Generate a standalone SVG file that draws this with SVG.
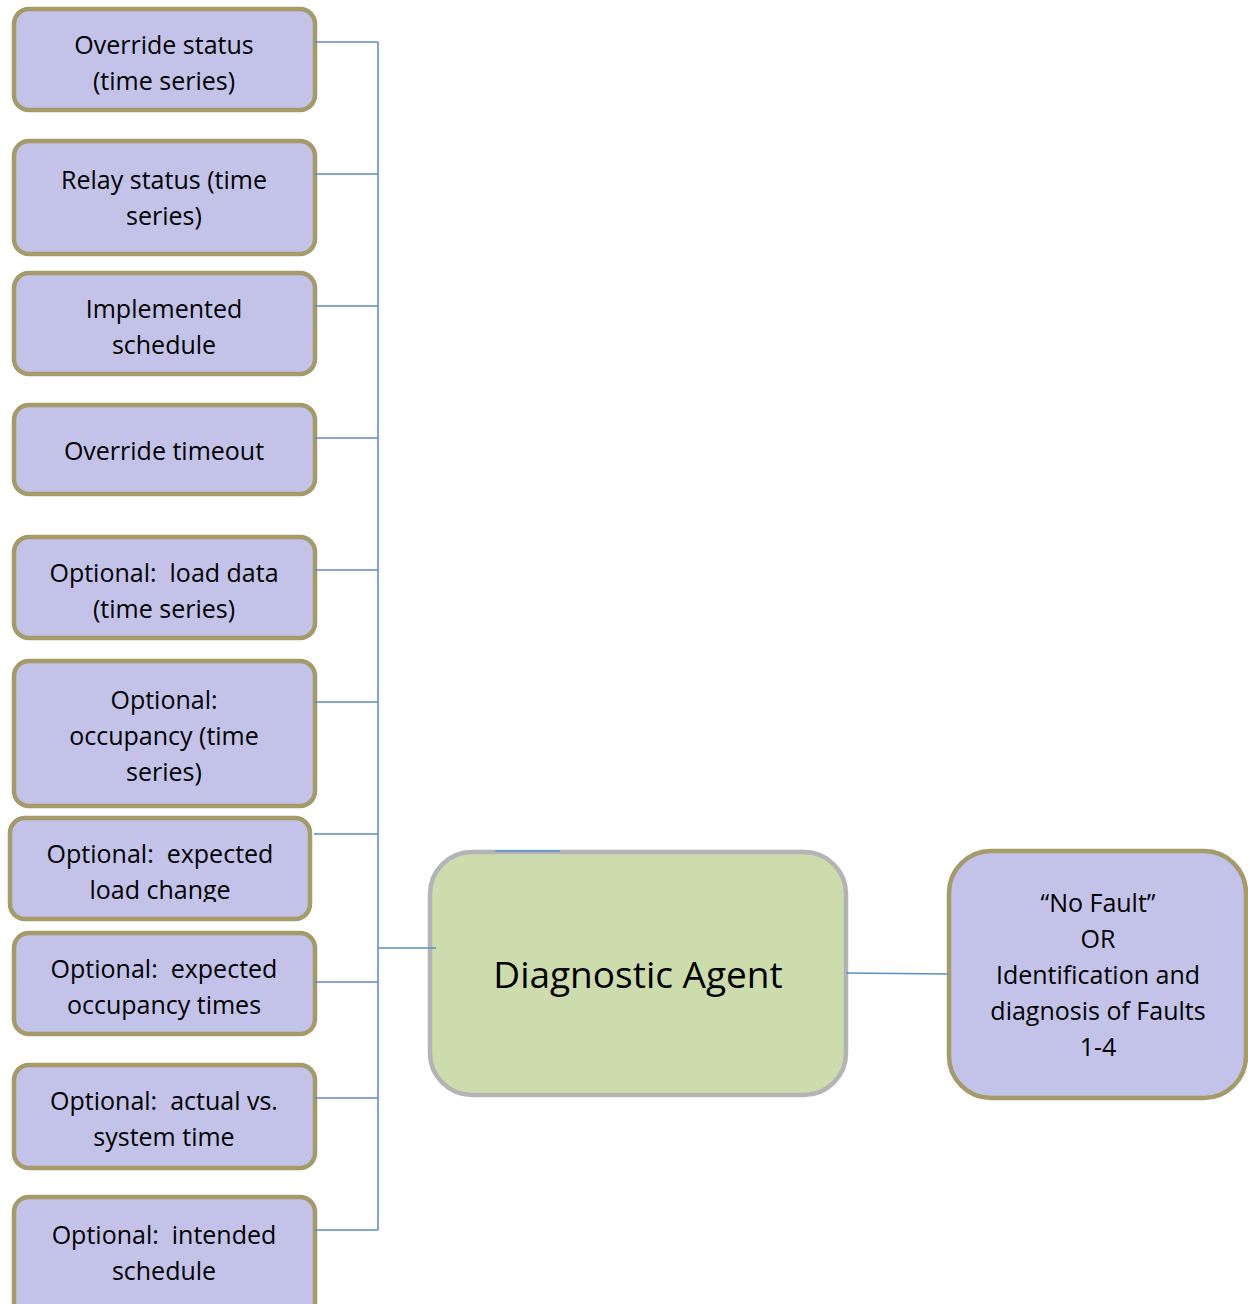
<svg xmlns="http://www.w3.org/2000/svg" width="1248" height="1304" viewBox="0 0 1248 1304">
<style>
.in{fill:#C3C3E9;stroke:#A59A6A;stroke-width:4.5}
.ag{fill:#CDDCAC;stroke:#B4B4B4;stroke-width:4.5}
.t{font-family:"Open Sans","Noto Sans",sans-serif;font-size:25px;fill:#000;text-anchor:middle;white-space:pre}
.big{font-size:37px}
.c{stroke:#5B8FD0;stroke-width:1.6;fill:none}
</style>
<defs>
<clipPath id="clip7"><rect x="10" y="818" width="300" height="84"/></clipPath>
</defs>
<rect width="1248" height="1304" fill="#fff"/>
<g id="n1"><rect class="in" x="14" y="9" width="301" height="101" rx="15"/>
<text class="t" x="164" y="54">Override status</text><text class="t" x="164" y="90">(time series)</text></g>
<g id="n2"><rect class="in" x="14" y="141" width="301" height="113" rx="15"/>
<text class="t" x="164" y="189">Relay status (time</text><text class="t" x="164" y="225">series)</text></g>
<g id="n3"><rect class="in" x="14" y="273" width="301" height="101" rx="15"/>
<text class="t" x="164" y="318">Implemented</text><text class="t" x="164" y="354">schedule</text></g>
<g id="n4"><rect class="in" x="14" y="405" width="301" height="89" rx="15"/>
<text class="t" x="164" y="460">Override timeout</text></g>
<g id="n5"><rect class="in" x="14" y="537" width="301" height="101" rx="15"/>
<text class="t" x="164" y="582" xml:space="preserve">Optional:  load data</text><text class="t" x="164" y="618">(time series)</text></g>
<g id="n6"><rect class="in" x="14" y="661" width="301" height="145" rx="15"/>
<text class="t" x="164" y="709">Optional:</text><text class="t" x="164" y="745">occupancy (time</text><text class="t" x="164" y="781">series)</text></g>
<g id="n7"><rect class="in" x="10" y="818" width="300" height="101" rx="15"/>
<g clip-path="url(#clip7)"><text class="t" x="160" y="863" xml:space="preserve">Optional:  expected</text><text class="t" x="160" y="899">load change</text></g></g>
<g id="n8"><rect class="in" x="14" y="933" width="301" height="101" rx="15"/>
<text class="t" x="164" y="978" xml:space="preserve">Optional:  expected</text><text class="t" x="164" y="1014">occupancy times</text></g>
<g id="n9"><rect class="in" x="14" y="1065" width="301" height="103" rx="15"/>
<text class="t" x="164" y="1110" xml:space="preserve">Optional:  actual vs.</text><text class="t" x="164" y="1146">system time</text></g>
<g id="n10"><rect class="in" x="14" y="1197" width="301" height="130" rx="15"/>
<text class="t" x="164" y="1244" xml:space="preserve">Optional:  intended</text><text class="t" x="164" y="1280">schedule</text></g>
<g id="agent"><rect class="ag" x="430" y="852" width="416" height="243" rx="42"/>
<text class="t big" x="638" y="988">Diagnostic Agent</text></g>
<g id="output"><rect class="in" x="949" y="851" width="297" height="247" rx="42"/>
<text class="t" x="1098" y="912">“No Fault”</text><text class="t" x="1098" y="948">OR</text><text class="t" x="1098" y="984">Identification and</text><text class="t" x="1098" y="1020">diagnosis of Faults</text><text class="t" x="1098" y="1056">1-4</text></g>
<g id="connectors">
<path class="c" d="M315 42H378M315 174H378M315 306H378M315 438H378M315 570H378M315 702H378M314 834H378M315 982H378M315 1098H378M315 1230H378M378 42V1230M378 948H436"/>
<path class="c" d="M495 851H560"/>
<path class="c" d="M846 973L948 974"/>
</g>
</svg>
